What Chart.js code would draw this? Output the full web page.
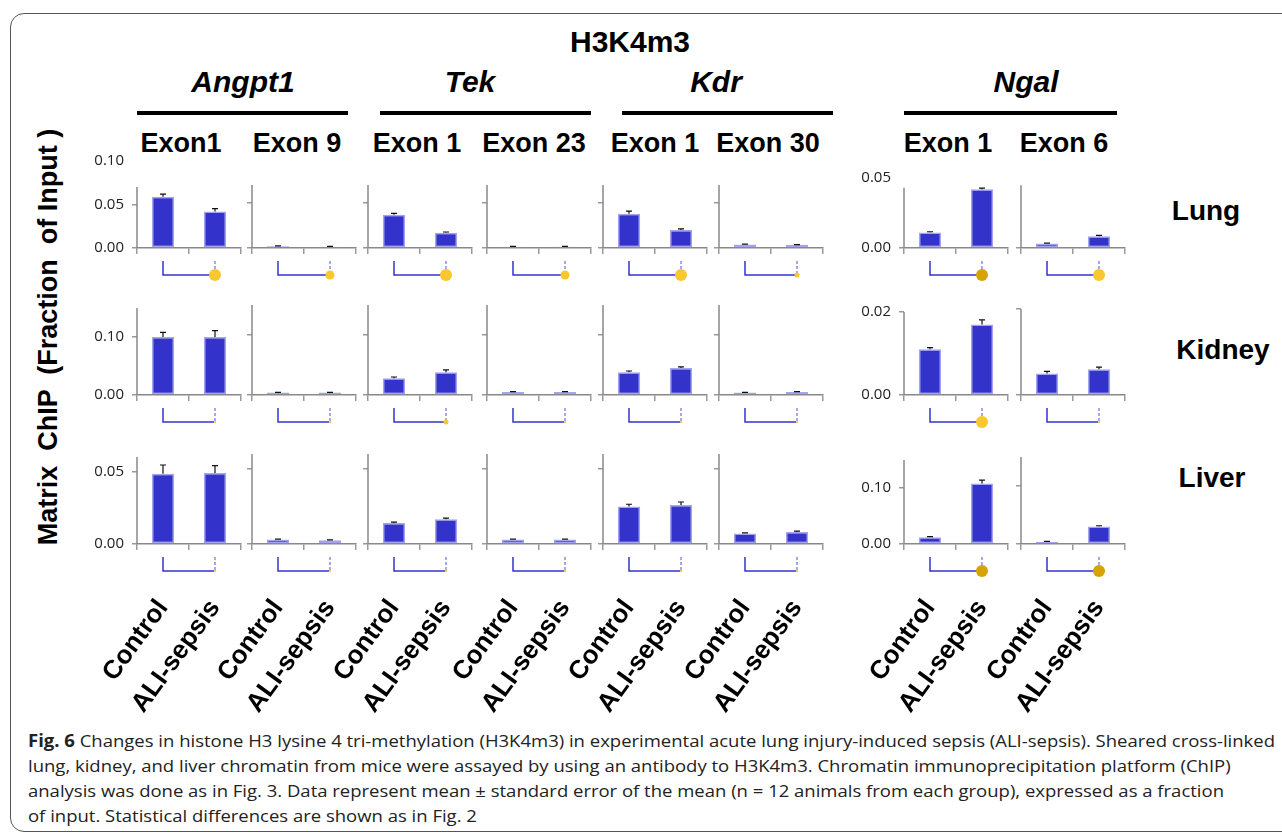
<!DOCTYPE html>
<html>
<head>
<meta charset="utf-8">
<script src="https://cdn.jsdelivr.net/npm/chart.js@4.4.0/dist/chart.umd.min.js"></script>
<style>
body { margin: 0; width: 1282px; height: 836px; overflow: hidden; background: #fff; position: relative; font-family: "Liberation Sans", Arial, sans-serif; }
.frame { position: absolute; left: 10px; top: 13px; width: 1300px; height: 817px; border: 1.5px solid #555; border-radius: 14px; }
.t { position: absolute; font-weight: bold; color: #000; white-space: pre; transform: translate(-50%, -50%); }
.gene { font-style: italic; font-size: 30px; }
.exon { font-size: 27px; }
.tissue { font-size: 28px; }
.bar { position: absolute; height: 4px; background: #000; }
canvas { position: absolute; }
#cap { position: absolute; left: 28px; top: 728px; font-family: "Open Sans", sans-serif; font-size: 17px; line-height: 25px; color: #222; white-space: nowrap; transform-origin: 0 0; }
</style>
</head>
<body>
<div class="frame"></div>

<div class="t" style="left:630px;top:42px;font-size:30px">H3K4m3</div>
<div class="t gene" style="left:243px;top:82px">Angpt1</div>
<div class="t gene" style="left:470px;top:82px">Tek</div>
<div class="t gene" style="left:716px;top:82px">Kdr</div>
<div class="t gene" style="left:1026px;top:82px">Ngal</div>
<div class="bar" style="left:137px;top:111px;width:211px"></div>
<div class="bar" style="left:380px;top:111px;width:211px"></div>
<div class="bar" style="left:622px;top:111px;width:211px"></div>
<div class="bar" style="left:904px;top:111px;width:213px"></div>
<div id="exons"></div>
<div class="t tissue" style="left:1206px;top:211px">Lung</div>
<div class="t tissue" style="left:1223px;top:350px">Kidney</div>
<div class="t tissue" style="left:1212px;top:478px">Liver</div>
<div class="t" style="left:48px;top:337px;font-size:27px;transform:translate(-50%,-50%) rotate(-90deg)">Matrix  ChIP  (Fraction  of Input )</div>

<div id="cap"><b>Fig. 6</b> Changes in histone H3 lysine 4 tri-methylation (H3K4m3) in experimental acute lung injury-induced sepsis (ALI-sepsis). Sheared cross-linked<br>lung, kidney, and liver chromatin from mice were assayed by using an antibody to H3K4m3. Chromatin immunoprecipitation platform (ChIP)<br>analysis was done as in Fig. 3. Data represent mean ± standard error of the mean (n = 12 animals from each group), expressed as a fraction<br>of input. Statistical differences are shown as in Fig. 2</div>

<script>
const groups = ['Control', 'ALI-sepsis'];
const exons = ['Exon1', 'Exon 9', 'Exon 1', 'Exon 23', 'Exon 1', 'Exon 30', 'Exon 1', 'Exon 6'];

// columns: Angpt1 Ex1, Ex9, Tek Ex1, Ex23, Kdr Ex1, Ex30, Ngal Ex1, Ex6
const lungControl    = [0.059, 0.002, 0.037, 0.0015, 0.038, 0.004, 0.011, 0.003];
const lungSepsis     = [0.042, 0.0015, 0.017, 0.0015, 0.020, 0.0035, 0.042, 0.008];
const lungControlSem = [0.003, 0.0003, 0.0015, 0.0002, 0.003, 0.0004, 0.0006, 0.0003];
const lungSepsisSem  = [0.0033, 0.0003, 0.0008, 0.0002, 0.0012, 0.0003, 0.0008, 0.0006];

const kidneyControl    = [0.100, 0.004, 0.028, 0.005, 0.038, 0.004, 0.011, 0.005];
const kidneySepsis     = [0.100, 0.004, 0.038, 0.005, 0.045, 0.005, 0.017, 0.006];
const kidneyControlSem = [0.008, 0.0005, 0.002, 0.0005, 0.002, 0.0005, 0.0004, 0.0005];
const kidneySepsisSem  = [0.011, 0.0005, 0.004, 0.0005, 0.002, 0.0005, 0.0011, 0.0005];

const liverControl    = [0.0485, 0.003, 0.014, 0.003, 0.025, 0.007, 0.012, 0.004];
const liverSepsis     = [0.049, 0.0025, 0.0165, 0.003, 0.026, 0.008, 0.108, 0.030];
const liverControlSem = [0.006, 0.0003, 0.0006, 0.0002, 0.0015, 0.0004, 0.0012, 0.0006];
const liverSepsisSem  = [0.005, 0.0003, 0.0008, 0.0003, 0.002, 0.0006, 0.006, 0.0015];

// significance marker level (0 none ... 3 strong, 4 strongest)
const lungSig   = [3, 2, 3, 2, 3, 1, 4, 3];
const kidneySig = [0, 0, 1, 0, 0, 0, 3, 0];
const liverSig  = [0, 0, 0, 0, 0, 0, 4, 4];

// y tick values
const lungTicks = [0, 0.05, 0.10], lungNgalTicks = [0, 0.05];
const kidneyTicks = [0, 0.10], kidneyNgalTicks = [0, 0.02];
const liverTicks = [0, 0.05], liverNgalTicks = [0, 0.10];

const control = [lungControl, kidneyControl, liverControl];
const sepsis = [lungSepsis, kidneySepsis, liverSepsis];
const controlSem = [lungControlSem, kidneyControlSem, liverControlSem];
const sepsisSem = [lungSepsisSem, kidneySepsisSem, liverSepsisSem];
const sig = [lungSig, kidneySig, liverSig];

// layout
const colX = [137, 252, 368, 487, 603, 719, 904, 1021];
const rowBottom = [248, 395, 544];
const scaleCfg = [
    [{ max: 0.10, axisTop: 0.07, plotH: 90, ticks: lungTicks }, { max: 0.05, axisTop: 0.043, plotH: 73, ticks: lungNgalTicks }],
    [{ max: 0.15, axisTop: 0.15, plotH: 90, ticks: kidneyTicks }, { max: 0.02, axisTop: 0.02, plotH: 86, ticks: kidneyNgalTicks }],
    [{ max: 0.06, axisTop: 0.06, plotH: 90, ticks: liverTicks }, { max: 0.15, axisTop: 0.15, plotH: 87, ticks: liverNgalTicks }]
];
const sigRadius = [1.2, 2.5, 4.5, 6, 6];
const sigColor = ['#f3cc5a', '#fbc72e', '#fbc72e', '#fbc72e', '#d6a300'];

const exonX = [181, 297, 417, 534, 655, 768, 948, 1064];
const exonBox = document.getElementById('exons');
exons.forEach((e, i) => {
    const d = document.createElement('div');
    d.className = 't exon';
    d.style.left = exonX[i] + 'px';
    d.style.top = '143px';
    d.textContent = e;
    exonBox.appendChild(d);
});

const extras = {
    id: 'extras',
    afterDatasetsDraw(chart, args, opts) {
        const { ctx, chartArea, scales: { x, y } } = chart;
        ctx.save();
        // y axis line
        ctx.strokeStyle = '#888';
        ctx.lineWidth = 1.5;
        ctx.beginPath();
        ctx.moveTo(chartArea.left, chartArea.bottom);
        ctx.lineTo(chartArea.left, y.getPixelForValue(opts.axisTop));
        ctx.stroke();
        // error bars
        ctx.strokeStyle = '#111';
        ctx.lineWidth = 1.2;
        opts.values.forEach((v, i) => {
            const px = x.getPixelForValue(i);
            const y0 = y.getPixelForValue(v), y1 = y.getPixelForValue(v + opts.sem[i]);
            ctx.beginPath();
            ctx.moveTo(px, y0);
            ctx.lineTo(px, y1);
            ctx.moveTo(px - 3, y1);
            ctx.lineTo(px + 3, y1);
            ctx.stroke();
        });
        // significance bracket
        const xc = x.getPixelForValue(0), xa = x.getPixelForValue(1);
        const b0 = chartArea.bottom + 13, b1 = chartArea.bottom + 27;
        ctx.strokeStyle = '#3333cc';
        ctx.lineWidth = 1.5;
        ctx.beginPath();
        ctx.moveTo(xc, b0);
        ctx.lineTo(xc, b1);
        ctx.lineTo(xa, b1);
        ctx.stroke();
        ctx.strokeStyle = '#8a8ae6';
        ctx.setLineDash([3, 2]);
        ctx.beginPath();
        ctx.moveTo(xa, b0);
        ctx.lineTo(xa, b1);
        ctx.stroke();
        ctx.setLineDash([]);
        ctx.fillStyle = sigColor[opts.level];
        ctx.beginPath();
        ctx.arc(xa, b1, sigRadius[opts.level], 0, Math.PI * 2);
        ctx.fill();
        ctx.restore();
    }
};

function makePanel(row, col) {
    const cfg = scaleCfg[row][col < 6 ? 0 : 1];
    const isBottom = row === 2;
    const showY = col === 0 || col === 6;
    const plotW = 104, left = 140, padR = 80, padT = 14;
    const yW = showY ? 60 : 8;
    const padL = left - yW;
    const axisH = isBottom ? 200 : 40;
    const w = left + plotW + padR;
    const h = padT + cfg.plotH + axisH;
    const canvas = document.createElement('canvas');
    canvas.width = w;
    canvas.height = h;
    canvas.style.width = w + 'px';
    canvas.style.height = h + 'px';
    canvas.style.left = (colX[col] - left) + 'px';
    canvas.style.top = (rowBottom[row] - cfg.plotH - padT) + 'px';
    document.body.appendChild(canvas);

    const values = [control[row][col], sepsis[row][col]];
    new Chart(canvas, {
        type: 'bar',
        data: {
            labels: groups,
            datasets: [{
                data: values,
                backgroundColor: '#3333cc',
                borderColor: '#a3a3ef',
                borderWidth: 1.5,
                borderSkipped: false,
                barPercentage: 0.43,
                categoryPercentage: 1
            }]
        },
        options: {
            responsive: false,
            animation: false,
            devicePixelRatio: 1,
            layout: { padding: { left: padL, right: padR, top: padT, bottom: 0 } },
            plugins: {
                legend: { display: false },
                tooltip: { enabled: false },
                extras: {
                    values: values,
                    sem: [controlSem[row][col], sepsisSem[row][col]],
                    level: sig[row][col],
                    axisTop: cfg.axisTop
                }
            },
            scales: {
                x: {
                    afterFit: s => { s.height = axisH; },
                    border: { display: true, color: '#888', width: 1.5 },
                    grid: { drawOnChartArea: false, drawTicks: true, tickLength: 6, color: '#9a9a9a', lineWidth: 1.5 },
                    ticks: {
                        display: isBottom,
                        autoSkip: false,
                        minRotation: 54,
                        maxRotation: 54,
                        padding: 44,
                        color: '#000',
                        font: { family: 'Liberation Sans', size: 26, weight: 'bold' }
                    }
                },
                y: {
                    min: 0,
                    max: cfg.max,
                    afterFit: s => { s.width = yW; },
                    afterBuildTicks: s => { s.ticks = cfg.ticks.map(v => ({ value: v })); },
                    border: { display: false },
                    grid: {
                        drawOnChartArea: false,
                        drawTicks: true,
                        tickLength: 5,
                        lineWidth: 1.5,
                        color: c => (c.tick && c.tick.value > cfg.axisTop + 1e-9) ? 'rgba(0,0,0,0)' : '#9a9a9a'
                    },
                    ticks: {
                        display: showY,
                        padding: 8,
                        color: '#222',
                        font: { family: 'Open Sans', size: 15 },
                        callback: v => v.toFixed(2)
                    }
                }
            }
        },
        plugins: [extras]
    });
}

for (let r = 0; r < 3; r++) {
    for (let c = 0; c < 8; c++) {
        makePanel(r, c);
    }
}

// fit caption to the width of the original text block
const cap = document.getElementById('cap');
const range = document.createRange();
range.setStart(cap.firstChild, 0);
range.setEnd(cap.childNodes[1], cap.childNodes[1].length);
const firstW = range.getBoundingClientRect().width;
cap.style.transform = 'scaleX(' + (1247 / firstW) + ')';
</script>
</body>
</html>
